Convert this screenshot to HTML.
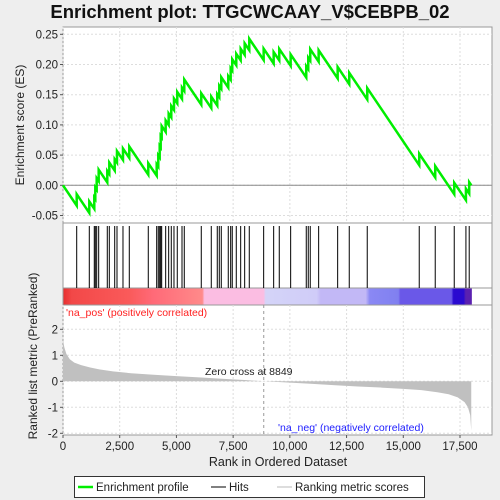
<!DOCTYPE html>
<html><head><meta charset="utf-8"><style>
body{margin:0;background:#eeeeee;width:500px;height:500px;overflow:hidden;font-family:"Liberation Sans",sans-serif}
svg{display:block}
</style></head><body>
<svg id="c" width="500" height="500" xmlns="http://www.w3.org/2000/svg">
<text x="250" y="18" text-anchor="middle" font-size="18.5" font-weight="bold" fill="#111">Enrichment plot: TTGCWCAAY_V$CEBPB_02</text>
</svg>
<script>
const N = 18000;
const hitRanks = [604,1159,1379,1424,1485,1573,1952,2041,2279,2380,2644,2922,3759,4130,4200,4262,4306,4350,4526,4658,4773,4892,5037,5245,5346,6095,6536,6800,6889,6977,7285,7391,7461,7638,7832,8008,8211,8845,9286,9533,10035,10723,10811,10899,11269,12107,12618,13411,15703,16408,17246,17761,17906];
const metricRanks = [0,60,150,300,500,800,1200,1600,2200,3000,4000,5000,6000,7000,8000,8849,10000,11000,12000,13000,14000,15000,15800,16500,17000,17400,17700,17850,17950,17996];
const metricValues = [1.6,1.3,1.05,0.85,0.72,0.62,0.53,0.46,0.38,0.31,0.25,0.2,0.15,0.1,0.05,0,-0.05,-0.1,-0.15,-0.2,-0.24,-0.29,-0.34,-0.42,-0.5,-0.62,-0.8,-1.0,-1.3,-1.9];
const xTicks = [0,2500,5000,7500,10000,12500,15000,17500];
const xTickLabels = ["0","2,500","5,000","7,500","10,000","12,500","15,000","17,500"];
const esTicks = [-0.05,0,0.05,0.1,0.15,0.2,0.25];
const esTickLabels = ["-0.05","0.00","0.05","0.10","0.15","0.20","0.25"];
const mTicks = [-2,-1,0,1,2];
const zeroCross = 8849;

const NS="http://www.w3.org/2000/svg", svg=document.getElementById('c');
const L=63,R=492;
const xs=r=>L+r*(460-L)/17500;
const ys=v=>185.3-v*(151/0.25);
const ym=v=>381.3-v*26;
function mk(t,a,p){const e=document.createElementNS(NS,t);for(const k in a)e.setAttribute(k,a[k]);(p||svg).appendChild(e);return e;}

// panels
let e=mk('rect',{x:L,y:27,width:R-L,height:196,fill:'#fff',stroke:'#999'});


e=mk('rect',{x:L,y:223,width:R-L,height:212,fill:'#fff',stroke:'#999'});


mk('line',{x1:L,x2:R,y1:288,y2:288,stroke:'#999'});
mk('line',{x1:L,x2:R,y1:305,y2:305,stroke:'#999'});

// grids
xTicks.forEach(t=>{
 mk('line',{x1:xs(t),x2:xs(t),y1:27,y2:223,stroke:'#ddd','stroke-dasharray':'2,2'});
 mk('line',{x1:xs(t),x2:xs(t),y1:305,y2:435,stroke:'#ddd','stroke-dasharray':'2,2'});
});
esTicks.forEach((t,i)=>{
 mk('line',{x1:L,x2:R,y1:ys(t),y2:ys(t),stroke:'#ddd','stroke-dasharray':'2,2'});
 mk('line',{x1:L-3,x2:L,y1:ys(t),y2:ys(t),stroke:'#555'});
 e=mk('text',{x:L-5,y:ys(t)+4,'text-anchor':'end','font-size':11.5,fill:'#222'});e.textContent=esTickLabels[i];
 
 
});
mTicks.forEach(t=>{
 mk('line',{x1:L,x2:R,y1:ym(t),y2:ym(t),stroke:'#ddd','stroke-dasharray':'2,2'});
 mk('line',{x1:L-3,x2:L,y1:ym(t),y2:ym(t),stroke:'#555'});
 e=mk('text',{x:L-5,y:ym(t)+4,'text-anchor':'end','font-size':11.5,fill:'#222'});e.textContent=String(t);
 
 
});
xTicks.forEach((t,i)=>{
 mk('line',{x1:xs(t),x2:xs(t),y1:435,y2:438,stroke:'#555'});
 e=mk('text',{x:xs(t),y:450,'text-anchor':'middle','font-size':11.5,fill:'#222'});e.textContent=xTickLabels[i];
 
 
});
mk('line',{x1:L,x2:R,y1:ys(0),y2:ys(0),stroke:'#888'});

// color bar
const defs=mk('defs',{});
const g=mk('linearGradient',{id:'cb',x1:0,x2:1,y1:0,y2:0},defs);
[[0,'#e83030'],[0.02,'#f24848'],[0.16,'#fa5a5a'],[0.22,'#ff6a78'],[0.34,'#ff8a8a'],[0.345,'#fbbde2'],[0.49,'#fbbde2'],[0.495,'#d4d4f8'],[0.62,'#d0ccf8'],[0.63,'#c2b8f6'],[0.74,'#c2b8f6'],[0.75,'#8a88f4'],[0.82,'#8080f0'],[0.825,'#6a58e8'],[0.95,'#6a58e8'],[0.955,'#2a0ad0'],[0.98,'#2a0ad0'],[0.985,'#5a20b0'],[1,'#5a20b0']].forEach(s=>mk('stop',{offset:s[0],'stop-color':s[1]},g));
e=mk('rect',{x:L+0.5,y:288.5,width:xs(N)-L,height:16,fill:'url(#cb)'});



// hits
hitRanks.forEach(r=>{
 e=mk('line',{x1:xs(r),x2:xs(r),y1:226,y2:288,stroke:'#000','stroke-width':1});
 
 
});

// metric area
let pts=[[xs(0),ym(0)]];
metricRanks.forEach((r,i)=>pts.push([xs(r),ym(metricValues[i])]));
pts.push([xs(metricRanks[metricRanks.length-1]),ym(0)]);
e=mk('polygon',{points:pts.map(p=>p.join(',')).join(' '),fill:'#c0c0c0'});


mk('line',{x1:xs(zeroCross),x2:xs(zeroCross),y1:305,y2:435,stroke:'#999','stroke-dasharray':'3,3'});
e=mk('text',{x:xs(zeroCross)-15,y:375,'text-anchor':'middle','font-size':10.5,fill:'#222'});e.textContent='Zero cross at '+zeroCross;


e=mk('text',{x:66,y:316,'font-size':10.5,fill:'#ff2020'});e.textContent="'na_pos' (positively correlated)";


e=mk('text',{x:278,y:431,'font-size':10.5,fill:'#2020ff'});e.textContent="'na_neg' (negatively correlated)";



// ES running sum (classic, equal weights)
const nh=hitRanks.length, up=1/nh, dn=1/(N-nh);
let es=0,prev=0,path=[[xs(0),ys(0)]];
hitRanks.forEach(r=>{
 es-=(r-prev)*dn; path.push([xs(r),ys(es)]);
 es+=up; path.push([xs(r),ys(es)]); prev=r+1;
});
es-=(N-prev)*dn; path.push([xs(N),ys(es)]);
e=mk('polyline',{points:path.map(p=>p.join(',')).join(' '),fill:'none',stroke:'#00ee00','stroke-width':2.5});



// axis titles
e=mk('text',{x:0,y:0,'text-anchor':'middle','font-size':12,fill:'#222',transform:'translate(24,125) rotate(-90)'});e.textContent='Enrichment score (ES)';


e=mk('text',{x:0,y:0,'text-anchor':'middle','font-size':12,fill:'#222',transform:'translate(37,356) rotate(-90)'});e.textContent='Ranked list metric (PreRanked)';


e=mk('text',{x:278,y:466,'text-anchor':'middle','font-size':12.5,fill:'#222'});e.textContent='Rank in Ordered Dataset';



// legend
const lg=mk('g',{});


mk('rect',{x:74.5,y:476.5,width:350,height:21,fill:'#fff',stroke:'#333'},lg);
mk('line',{x1:78,x2:93,y1:487,y2:487,stroke:'#00ee00','stroke-width':2.5},lg);
e=mk('text',{x:96,y:491,'font-size':11.5,fill:'#222'},lg);e.textContent='Enrichment profile';


mk('line',{x1:211,x2:226,y1:487,y2:487,stroke:'#000'},lg);
e=mk('text',{x:229,y:491,'font-size':11.5,fill:'#222'},lg);e.textContent='Hits';


mk('line',{x1:277,x2:292,y1:487,y2:487,stroke:'#bbb'},lg);
e=mk('text',{x:295,y:491,'font-size':11.5,fill:'#222'},lg);e.textContent='Ranking metric scores';


</script>
</body></html>
